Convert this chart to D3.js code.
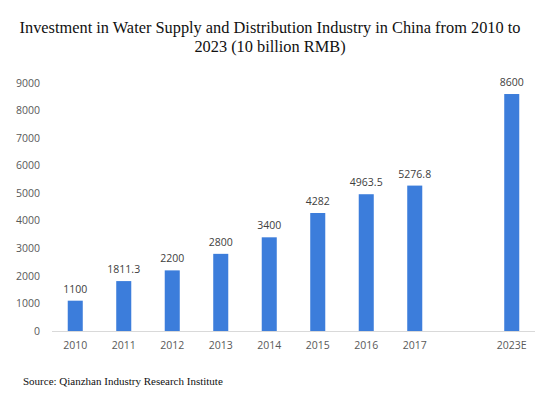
<!DOCTYPE html>
<html>
<head>
<meta charset="utf-8">
<script src="https://cdn.jsdelivr.net/npm/d3@7"></script>
<style>
  body { margin: 0; background: #fff; }
  svg { display: block; }
</style>
</head>
<body>
<div id="chart"></div>
<script>
// chart data
var years = ["2010", "2011", "2012", "2013", "2014", "2015", "2016", "2017", "2023E"];
var investment = [1100, 1811.3, 2200, 2800, 3400, 4282, 4963.5, 5276.8, 8600];
var yTicks = [0, 1000, 2000, 3000, 4000, 5000, 6000, 7000, 8000, 9000];
var valueLabels = ["1100", "1811.3", "2200", "2800", "3400", "4282", "4963.5", "5276.8", "8600"];
var titleLines = ["Investment in Water Supply and Distribution Industry in China from 2010 to",
                  "2023 (10 billion RMB)"];
var sourceText = "Source: Qianzhan Industry Research Institute";

var width = 546, height = 399;
var margin = {top: 83, bottom: 68, left: 51, right: 10};

var svg = d3.select("#chart")
    .append("svg")
    .attr("width", width)
    .attr("height", height);

// one empty slot between 2017 and 2023E
var domain = years.slice(0, 8).concat(["gap"], years.slice(8));

var x = d3.scaleBand()
    .domain(domain)
    .range([margin.left, margin.left + 48.5 * domain.length])
    .paddingInner(0.69)
    .paddingOuter(0.345);

var y = d3.scaleLinear()
    .domain([0, 9000])
    .range([height - margin.bottom, margin.top]);

// title
svg.append("g").selectAll("text")
    .data(titleLines)
    .enter()
    .append("text")
    .attr("x", 270)
    .attr("y", function(d, i) { return 33 + i * 19; })
    .attr("text-anchor", "middle")
    .style("font-family", "'Liberation Serif', 'Times New Roman', serif")
    .style("font-size", "16.35px")
    .style("fill", "#111")
    .text(function(d) { return d; });

// y axis labels
svg.append("g")
    .selectAll("text")
    .data(yTicks)
    .enter()
    .append("text")
    .attr("x", 40)
    .attr("y", function(d) { return y(d); })
    .attr("dy", "0.35em")
    .attr("text-anchor", "end")
    .style("font-family", "'Open Sans', sans-serif")
    .style("font-size", "10.5px")
    .style("fill", "#595959")
    .text(function(d) { return d; });

// baseline
svg.append("line")
    .attr("x1", 52)
    .attr("x2", 535)
    .attr("y1", y(0) + 0.5)
    .attr("y2", y(0) + 0.5)
    .style("stroke", "#d9d9d9")
    .style("stroke-width", 1);

// bars
svg.append("g")
    .selectAll("rect")
    .data(investment)
    .enter()
    .append("rect")
    .attr("x", function(d, i) { return x(years[i]); })
    .attr("y", function(d) { return y(d); })
    .attr("width", x.bandwidth())
    .attr("height", function(d) { return y(0) - y(d); })
    .style("fill", "#3c7ddb");

// value labels
svg.append("g")
    .selectAll("text")
    .data(investment)
    .enter()
    .append("text")
    .attr("x", function(d, i) { return x(years[i]) + x.bandwidth() / 2; })
    .attr("y", function(d) { return y(d) - 8; })
    .attr("text-anchor", "middle")
    .style("font-family", "'Open Sans', sans-serif")
    .style("font-size", "10.5px")
    .style("fill", "#404040")
    .text(function(d, i) { return valueLabels[i]; });

// x labels
svg.append("g")
    .selectAll("text")
    .data(years)
    .enter()
    .append("text")
    .attr("x", function(d) { return x(d) + x.bandwidth() / 2; })
    .attr("y", y(0) + 14)
    .attr("dy", "0.35em")
    .attr("text-anchor", "middle")
    .style("font-family", "'Open Sans', sans-serif")
    .style("font-size", "10.5px")
    .style("fill", "#595959")
    .text(function(d) { return d; });

// source
svg.append("text")
    .attr("x", 23)
    .attr("y", 385)
    .style("font-family", "'Liberation Serif', 'Times New Roman', serif")
    .style("font-size", "11px")
    .style("fill", "#111")
    .text(sourceText);
</script>
</body>
</html>
